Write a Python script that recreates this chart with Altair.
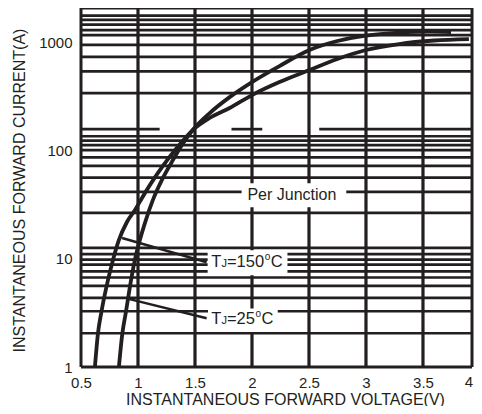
import altair as alt
import pandas as pd

INK = "#231f20"
FONT = "Liberation Sans"

# ---- data ----
X_TICKS = [0.5, 1, 1.5, 2, 2.5, 3, 3.5, 4]
Y_TICKS = [1, 10, 100, 1000]
X_GRID = [1, 1.5, 2, 2.5, 3, 3.5]
FRAME_V = [0.5, 3.93]
FRAME_I = [1, 2062]

# horizontal grid lines (A) as drawn on the original chart
GRID_I = [1750, 1600, 1450, 1290, 1160, 940, 730, 535, 338,
          135, 123, 112, 100.5, 86, 72, 56, 41.4, 26.5,
          12.6, 11.0, 9.8, 8.8, 7.65, 6.7, 5.6, 4.35, 3.27, 2.05]
# one grid line that is only partly drawn (segments)
PART_I = 157
PART_SEG = [(0.5, 1.19), (1.82, 2.09), (2.59, 3.93)]

# curves
V150 = [0.622, 0.649, 0.679, 0.723, 0.780, 0.832, 0.902, 0.972, 1.034, 1.121,
        1.217, 1.340, 1.480, 1.629, 1.804, 2.0, 2.241, 2.504, 2.749, 3.0,
        3.291, 3.597, 3.903]
I150 = [1.0, 2.05, 3.22, 5.49, 9.68, 14.8, 21.7, 28, 36.2, 50.9,
        71.5, 105, 154, 199, 246, 324, 427, 551, 697, 844,
        959, 1033, 1066]
V25 = [0.8325, 0.863, 0.894, 0.929, 0.972, 1.016, 1.069, 1.130, 1.209, 1.296,
       1.384, 1.480, 1.629, 1.804, 2.0, 2.241, 2.504, 2.749, 3.0, 3.291,
       3.553, 3.746]
I25 = [1.0, 2.05, 3.22, 5.49, 9.68, 14.8, 22.7, 34.7, 53.1, 77.9,
       111.8, 154, 221, 310, 427, 600, 844, 1022, 1148, 1224,
       1251, 1238]

# annotations (data coordinates)
BOXES = [  # V, V2, I, I2
    (1.909, 2.827, 29.9, 49.8),   # Per Junction
    (1.611, 2.311, 7.04, 11.97),  # TJ=150
    (1.614, 2.226, 2.106, 3.46),  # TJ=25
]
LEADERS = [  # V, V2, I, I2
    (0.86, 1.602, 15.5, 9.28),
    (0.90, 1.602, 4.3, 2.82),
]

# ---- scales & axes ----
XS = alt.Scale(domain=FRAME_V, nice=False, zero=False)
YS = alt.Scale(type="log", domain=FRAME_I, nice=False)
XAX = alt.Axis(values=X_TICKS[:-1], format="~g", grid=False, domain=False, ticks=False,
               labelFlush=False, labelPadding=8, labelFontSize=15, labelFont=FONT,
               labelColor=INK,
               title="INSTANTANEOUS FORWARD VOLTAGE(V)", titleFont=FONT,
               titleFontSize=16, titleFontWeight="normal", titleColor=INK,
               titleX=204, titleY=37, titleAlign="center", titleBaseline="alphabetic")
YAX = alt.Axis(values=Y_TICKS, format="~g", grid=False, domain=False, ticks=False,
               labelFlush=False, labelPadding=9, labelFontSize=15, labelFont=FONT,
               labelColor=INK,
               title="INSTANTANEOUS FORWARD CURRENT(A)", titleFont=FONT,
               titleFontSize=16, titleFontWeight="normal", titleColor=INK,
               titleX=-57, titleY=182, titleAngle=270, titleAlign="center",
               titleBaseline="alphabetic")


def X(f="V"):
    return alt.X(f"{f}:Q", scale=XS, axis=XAX)


def Y(f="I"):
    return alt.Y(f"{f}:Q", scale=YS, axis=YAX)


# ---- layers ----
hrows = [{"I": v, "V": FRAME_V[0], "V2": FRAME_V[1]} for v in GRID_I]
hrows += [{"I": PART_I, "V": a, "V2": b} for a, b in PART_SEG]
hgrid = alt.Chart(pd.DataFrame(hrows)).mark_rule(color=INK, strokeWidth=2.7).encode(
    x=X(), x2="V2:Q", y=Y())

vgrid = alt.Chart(pd.DataFrame({"V": X_GRID})).mark_rule(color=INK, strokeWidth=3.2).encode(
    x=X())

frame_v = alt.Chart(pd.DataFrame({"V": FRAME_V})).mark_rule(color=INK, strokeWidth=3).encode(
    x=X())
frame_h = alt.Chart(pd.DataFrame({"I": FRAME_I, "V": [FRAME_V[0]] * 2, "V2": [FRAME_V[1]] * 2})
                    ).mark_rule(color=INK, strokeWidth=3).encode(x=X(), x2="V2:Q", y=Y())

curves_df = pd.concat([
    pd.DataFrame({"V": V150, "I": I150, "s": "150"}),
    pd.DataFrame({"V": V25, "I": I25, "s": "25"}),
])
curves = alt.Chart(curves_df).mark_line(color=INK, strokeWidth=3.8, interpolate="monotone").encode(
    x=X(), y=Y(), detail="s:N")

lead_df = pd.DataFrame([{"V": a, "V2": b, "I": c, "I2": d} for a, b, c, d in LEADERS])
leaders = alt.Chart(lead_df).mark_rule(color=INK, strokeWidth=2.5).encode(
    x=X(), x2="V2:Q", y=Y(), y2="I2:Q")

box_df = pd.DataFrame([{"V": a, "V2": b, "I": c, "I2": d} for a, b, c, d in BOXES])
boxes = alt.Chart(box_df).mark_rect(fill="white", stroke=None).encode(
    x=X(), x2="V2:Q", y=Y(), y2="I2:Q")

texts = []
pj = alt.Chart(pd.DataFrame({"V": [2.350], "I": [34.9], "t": ["Per Junction"]})).mark_text(
    font=FONT, fontSize=16, color=INK, align="center", baseline="alphabetic").encode(
    x=X(), y=Y(), text="t:N")
texts.append(pj)

# last x tick label (sits just past the frame, at the edge of the picture)
last_lbl = alt.Chart(pd.DataFrame({"V": [X_TICKS[-1]], "I": [FRAME_I[0]],
                                   "t": [f"{X_TICKS[-1]:g}"]})).mark_text(
    font=FONT, fontSize=15, color=INK, align="right", baseline="top", dx=-7, dy=8).encode(
    x=X(), y=Y(), text="t:N")
texts.append(last_lbl)

TJ_LABELS = [  # anchor V, anchor I (baseline), number
    (1.643, 8.34, "=150"),
    (1.643, 2.48, "=25"),
]
for v, i, num in TJ_LABELS:
    num_w = {"=150": 37.2, "=25": 28.0}[num]
    pieces = [("T", 0, 0, 16.5), ("J", 10.1, 0, 11), (num, 15.6, 0, 16.5),
              ("o", 15.6 + num_w + 0.6, -7, 10), ("C", 15.6 + num_w + 6.6, 0, 16.5)]
    for txt, dx, dy, fs in pieces:
        texts.append(alt.Chart(pd.DataFrame({"V": [v], "I": [i], "t": [txt]})).mark_text(
            font=FONT, fontSize=fs, color=INK, align="left", baseline="alphabetic",
            dx=dx, dy=dy).encode(x=X(), y=Y(), text="t:N"))

chart = alt.layer(hgrid, vgrid, curves, leaders, boxes, *texts, frame_v, frame_h).properties(
    width=391, height=359, autosize="none",
    padding={"left": 73, "top": 0, "right": 2, "bottom": 39},
    background="white",
).configure_view(stroke=None)

chart.save("out.html", embed_options={"renderer": "svg", "actions": False})
